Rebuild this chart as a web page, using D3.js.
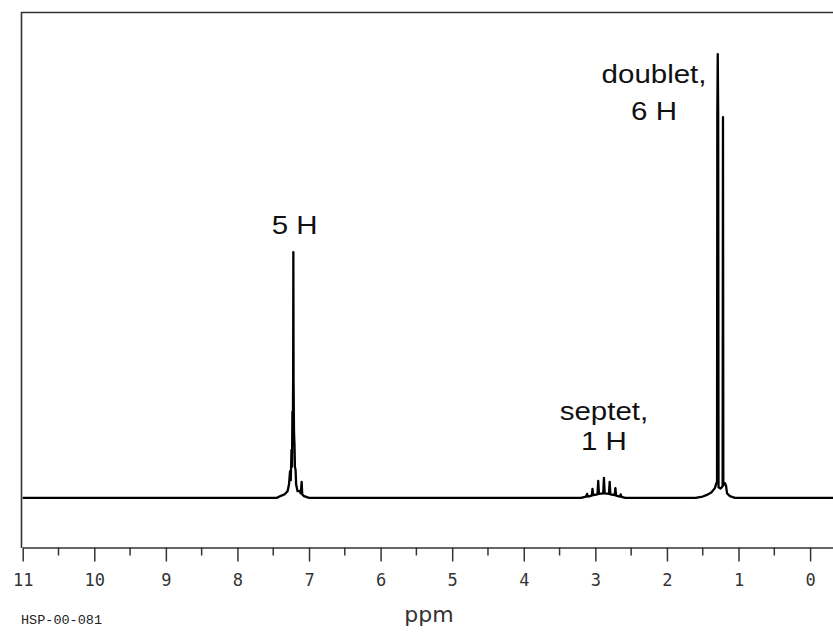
<!DOCTYPE html>
<html>
<head>
<meta charset="utf-8">
<script src="https://cdn.jsdelivr.net/npm/d3@7"></script>
<style>
  body { margin: 0; background: #fff; }
  svg { display: block; }
</style>
</head>
<body>
<div id="chart"></div>
<script>
// spectrum: chemical shift (ppm) and intensity (relative)
var shiftPpm = [11.0, 7.45, 7.40, 7.34, 7.30, 7.28, 7.265, 7.255, 7.245, 7.238, 7.232, 7.227, 7.222, 7.219, 7.216, 7.21, 7.203, 7.197, 7.188, 7.18, 7.16, 7.13, 7.115, 7.103, 7.095, 7.07, 7.0,
  3.20, 3.13, 3.115, 3.105, 3.05, 3.04, 3.03, 2.97, 2.96, 2.95, 2.89, 2.88, 2.87, 2.81, 2.80, 2.79, 2.73, 2.72, 2.71, 2.655, 2.645, 2.635, 2.58,
  1.60, 1.50, 1.45, 1.38, 1.33, 1.31, 1.30, 1.296, 1.290, 1.284, 1.279, 1.25, 1.222, 1.217, 1.212, 1.19, 1.175, 1.16, 1.12, 1.05, -0.32];
var intensity = [0, 0, 0.4, 0.8, 1.5, 3, 6, 4, 10.8, 7, 19.4, 12, 26.6, 55.4, 26.6, 15, 11.9, 7, 6.3, 3, 1.5, 1.5, 1, 3.6, 0.8, 0.4, 0,
  0, 0.3, 0.9, 0.3, 0.5, 2, 0.6, 0.8, 3.8, 0.9, 1, 4.5, 1, 0.9, 3.6, 0.8, 0.6, 2.2, 0.5, 0.3, 0.8, 0.2, 0,
  0, 0.3, 0.6, 1.2, 2.2, 3.3, 3.6, 86.3, 100, 86.3, 2.4, 2.1, 2.6, 85.8, 2.8, 3.3, 2.8, 1, 0.4, 0, 0];

var tickPpm = [11, 10, 9, 8, 7, 6, 5, 4, 3, 2, 1, 0];
var minorPpm = [10.5, 9.5, 8.5, 7.5, 6.5, 5.5, 4.5, 3.5, 2.5, 1.5, 0.5];

// peak annotations: text lines, anchor shift, anchor intensity, line gap
var noteLines = [["5 H"], ["septet,", "1 H"], ["doublet,", "6 H"]];
var notePpm = [7.20, 2.88, 2.18];
var noteLevel = [59.5, 17.6, 93.5];
var noteGap = [0, 30, 37.5];

var W = 833, H = 632;
var svg = d3.select("#chart").append("svg")
  .attr("width", W)
  .attr("height", H);

var x = d3.scaleLinear().domain([11, -0.32]).range([22.7, 833]);
var y = d3.scaleLinear().domain([-11.3, 109.5]).range([548, 12]);

// frame (left + top)
svg.append("path")
  .attr("d", "M21.5,548 V12.5 H833")
  .attr("fill", "none")
  .attr("stroke", "#333")
  .attr("stroke-width", 1.6);

// x axis
var axis = d3.axisBottom(x)
  .tickValues(tickPpm)
  .tickFormat(d3.format("d"))
  .tickSize(14)
  .tickSizeOuter(0)
  .tickPadding(12);

var gx = svg.append("g")
  .attr("transform", "translate(0,547.5)")
  .call(axis);
gx.select(".domain").attr("stroke", "#333").attr("stroke-width", 1.6);
gx.selectAll(".tick line").attr("stroke", "#333").attr("stroke-width", 1.5);
gx.selectAll(".tick text")
  .attr("fill", "#333")
  .style("font-family", "'DejaVu Sans Mono', monospace")
  .style("font-size", "17px");

gx.selectAll(".minor")
  .data(minorPpm)
  .enter().append("line")
  .attr("class", "minor")
  .attr("x1", function(d) { return x(d); })
  .attr("x2", function(d) { return x(d); })
  .attr("y1", 0)
  .attr("y2", 8)
  .attr("stroke", "#333")
  .attr("stroke-width", 1.5);

// spectrum
var line = d3.line()
  .x(function(d) { return x(d[0]); })
  .y(function(d) { return y(d[1]); });

svg.append("path")
  .datum(d3.zip(shiftPpm, intensity))
  .attr("d", line)
  .attr("fill", "none")
  .attr("stroke", "#000")
  .attr("stroke-width", 2.3)
  .attr("stroke-linejoin", "round");

// annotations
noteLines.forEach(function(lines, i) {
  lines.forEach(function(t, j) {
    svg.append("text")
      .attr("transform", "translate(" + x(notePpm[i]) + "," + (y(noteLevel[i]) + j * noteGap[i]) + ") scale(1.18,1)")
      .attr("text-anchor", "middle")
      .style("font-family", "'Liberation Sans', Arial, sans-serif")
      .style("font-size", "25px")
      .attr("fill", "#111")
      .text(t);
  });
});

// axis title and sample id
svg.append("text")
  .attr("x", 429)
  .attr("y", 622)
  .attr("text-anchor", "middle")
  .style("font-family", "'DejaVu Sans', sans-serif")
  .style("font-size", "22px")
  .attr("fill", "#333")
  .text("ppm");

svg.append("text")
  .attr("x", 21)
  .attr("y", 624)
  .style("font-family", "'Liberation Mono', monospace")
  .style("font-size", "13.5px")
  .attr("fill", "#222")
  .text("HSP-00-081");
</script>
</body>
</html>
